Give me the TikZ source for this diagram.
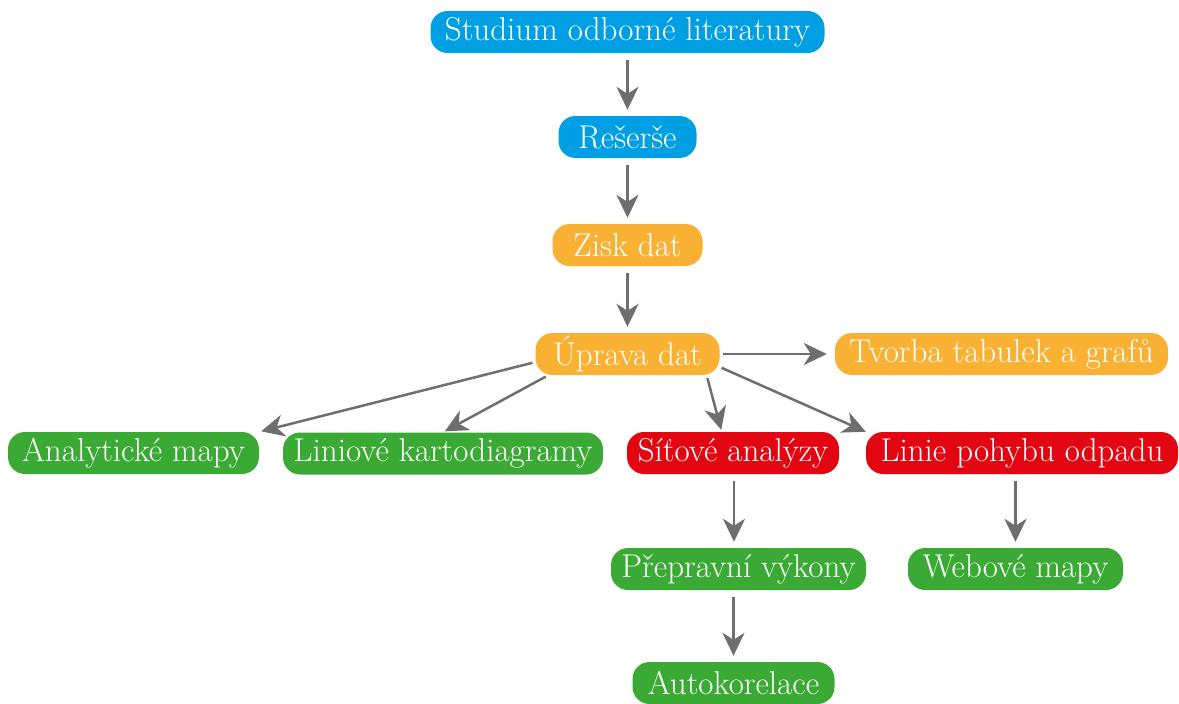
\documentclass[tikz,border=0pt]{standalone}
\usepackage{fontspec}
\usetikzlibrary{arrows.meta}
\definecolor{cblue}{HTML}{009FE3}
\definecolor{corange}{HTML}{F8B133}
\definecolor{cred}{HTML}{E20613}
\definecolor{cgreen}{HTML}{3AAA35}
\definecolor{carrow}{HTML}{6E6E6E}
\tikzset{
  box/.style={rectangle, rounded corners=17pt, inner sep=0pt, minimum height=42pt,
    text=white, font=\fontsize{33}{38}\selectfont, anchor=center},
  bluebox/.style={box, fill=cblue},
  orangebox/.style={box, fill=corange},
  redbox/.style={box, fill=cred},
  greenbox/.style={box, fill=cgreen},
  conn/.style={draw=carrow, line width=2.5pt,
    -{Stealth[length=23pt,width=22pt,inset=7pt]}, shorten <=7pt, shorten >=6pt}
}
\begin{document}
\begin{tikzpicture}[x=1pt,y=-1pt]
\useasboundingbox (0,0) rectangle (1179,704);
\node[bluebox, minimum width=394pt] (stu) at (627.5,32) {Studium odborné literatury};
\node[bluebox, minimum width=138pt] (res) at (627.5,137) {Rešerše};
\node[orangebox, minimum width=150pt] (zis) at (627.5,245) {Zisk dat};
\node[orangebox, minimum width=184pt] (upr) at (627.5,354) {Úprava dat};
\node[orangebox, minimum width=333pt] (tvo) at (1001.5,354) {Tvorba tabulek a grafů};
\node[greenbox, minimum width=251pt] (ana) at (133.5,453) {Analytické mapy};
\node[greenbox, minimum width=320pt] (lin) at (443,453.5) {Liniové kartodiagramy};
\node[redbox, minimum width=212pt] (sit) at (733,453) {Síťové analýzy};
\node[redbox, minimum width=312pt] (lpo) at (1022,453) {Linie pohybu odpadu};
\node[greenbox, minimum width=255pt] (pre) at (738.5,569) {Přepravní výkony};
\node[greenbox, minimum width=215pt] (web) at (1015.5,569) {Webové mapy};
\node[greenbox, minimum width=202pt] (aut) at (733.5,683) {Autokorelace};

\draw[conn] (stu) -- (res);
\draw[conn] (res) -- (zis);
\draw[conn] (zis) -- (upr);
\draw[conn, shorten <=3pt, shorten >=8pt] (upr.east) -- (tvo.west);
\draw[conn, shorten <=3pt, shorten >=2pt] (upr.185) -- (ana.north east);
\draw[conn, shorten <=3pt, shorten >=2pt] (upr.195) -- (lin.north);
\draw[conn, shorten <=3pt, shorten >=2pt] (upr.-15) -- (sit.118);
\draw[conn, shorten <=2pt, shorten >=0pt] (upr.-8) -- (lpo.north west);
\draw[conn] (sit.south -| pre.north) ++(-4.5,0) coordinate (sitb) -- (sitb |- pre.north);
\draw[conn] (lpo.south -| web.north) -- (web.north);
\draw[conn] (pre.south -| aut.north) -- (aut.north);
\end{tikzpicture}
\end{document}
